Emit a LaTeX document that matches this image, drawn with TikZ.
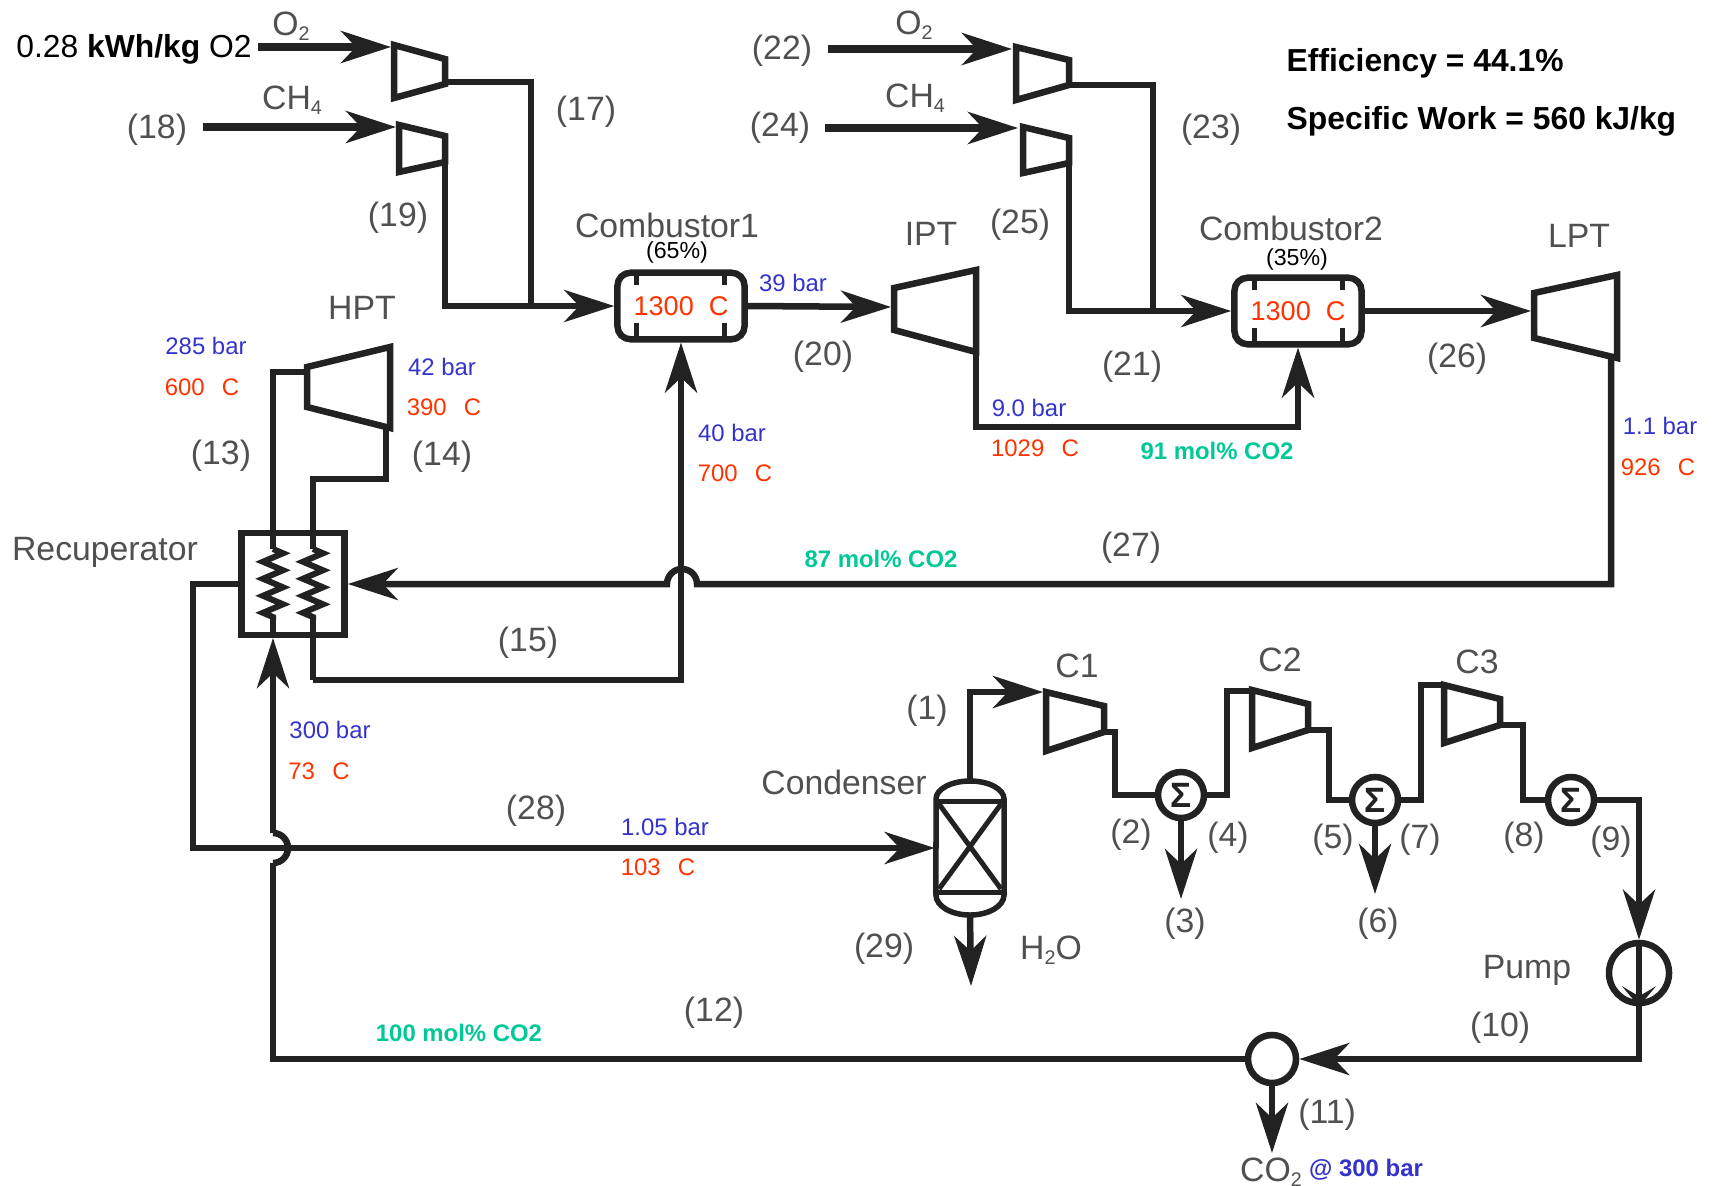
\documentclass[tikz,border=0pt]{standalone}
\usepackage{xcolor}
\usepackage{fontspec}
\setmainfont{Liberation Sans}
\usepackage{tikz}
\usetikzlibrary{arrows.meta,calc,decorations.pathmorphing}
\definecolor{linedark}{HTML}{222222}
\definecolor{labgray}{HTML}{505050}
\definecolor{presblue}{HTML}{3333CC}
\definecolor{tempred}{HTML}{FF3300}
\definecolor{fracgreen}{HTML}{00C896}
\newcommand{\lowsub}[1]{\raisebox{-0.25ex}{\fontsize{5.6}{6}\selectfont #1}}

\begin{document}
\begin{tikzpicture}[
        x=0.01cm, y=-0.01cm,
        pipe/.style={draw=linedark, line width=0.065cm},
        arr/.style={pipe, -{Stealth[length=0.5cm, width=0.32cm, inset=0.15cm]}},
        feed/.style={arr, line width=0.075cm},
        unit/.style={draw=linedark, line width=0.065cm, line join=miter},
        comb/.style={draw=linedark, line width=0.065cm, rounded corners=0.13cm, minimum width=1.27cm,
                     minimum height=0.665cm, inner sep=0pt, text=tempred, font=\fontsize{7.7}{9}\selectfont},
        sigma/.style={draw=linedark, line width=0.065cm, circle, minimum size=0.46cm, inner sep=0pt,
                      text=linedark, font=\fontsize{10}{11}\selectfont\bfseries},
        lab/.style={text=labgray, inner sep=0pt, yshift=-0.02cm, font=\fontsize{9.6}{11}\selectfont},
        pres/.style={text=presblue, inner sep=0pt, font=\fontsize{6.8}{8}\selectfont},
        temp/.style={text=tempred, inner sep=0pt, font=\fontsize{6.8}{8}\selectfont},
        frac/.style={text=fracgreen, inner sep=0pt, font=\fontsize{6.8}{8}\selectfont\bfseries},
        note/.style={text=black, inner sep=0pt, yshift=-0.03cm, font=\fontsize{9.05}{11}\selectfont},
        share/.style={text=black, inner sep=0pt, yshift=-0.02cm, font=\fontsize{6.6}{8}\selectfont},
        coil/.style={pipe, line width=0.06cm, decorate, decoration={zigzag, segment length=0.17cm, amplitude=0.1cm}},
    ]
    \useasboundingbox (0,0) rectangle (1719,1185);

    % First fuel and oxygen feed
    \draw[unit] (394,45) -- (445,59) -- (445,84) -- (394,98) -- cycle;
    \draw[unit] (399,125) -- (445,136) -- (445,162) -- (399,172) -- cycle;
    \coordinate (o2a_feed) at (258,47);
    \coordinate (o2a_in) at (391,47);
    \coordinate (cha_feed) at (203,127);
    \coordinate (cha_in) at (396,127);
    \coordinate (o2a_out) at (445,82);
    \coordinate (cha_out) at (445,162);
    \coordinate (join_a) at (531,306);
    \draw[feed] (o2a_feed) -- (o2a_in);
    \draw[feed] (cha_feed) -- (cha_in);

    % Second fuel and oxygen feed
    \draw[unit] (1016,47) -- (1069,60) -- (1069,85) -- (1016,100) -- cycle;
    \draw[unit] (1023,127) -- (1069,138) -- (1069,163) -- (1023,173) -- cycle;
    \coordinate (o2b_feed) at (828,49);
    \coordinate (o2b_in) at (1012,49);
    \coordinate (chb_feed) at (825,128);
    \coordinate (chb_in) at (1018,128);
    \coordinate (o2b_out) at (1069,85);
    \coordinate (chb_out) at (1069,163);
    \coordinate (join_b) at (1153,310);
    \draw[feed] (o2b_feed) -- (o2b_in);
    \draw[feed] (chb_feed) -- (chb_in);

    % Combustors
    \node[comb] (comb1) at (681,306) {1300~~C};
    \node[comb] (comb2) at (1298,311) {1300~~C};
    \draw[pipe, line width=0.05cm] (636,272) -- (636,285) (724,272) -- (724,285);
    \draw[pipe, line width=0.05cm] (636,323) -- (636,340) (724,323) -- (724,340);
    \draw[pipe, line width=0.05cm] (1254,277) -- (1254,290) (1342,277) -- (1342,290);
    \draw[pipe, line width=0.05cm] (1254,328) -- (1254,345) (1342,328) -- (1342,345);
    \draw[pipe] (o2a_out) -| (join_a);
    \draw[arr] (cha_out) |- (comb1.west);
    \draw[pipe] (o2b_out) -| (join_b);
    \draw[arr] (chb_out) |- (comb2.west);

    % Turbines
    \draw[unit] (307,367) -- (390,347) -- (390,428) -- (307,407) -- cycle;
    \draw[unit] (894,288) -- (976,270) -- (976,352) -- (894,330) -- cycle;
    \draw[unit] (1534,293) -- (1617,275) -- (1617,358) -- (1534,338) -- cycle;
    \coordinate (hpt_in) at (307,372);
    \coordinate (hpt_out) at (386,428);
    \coordinate (ipt_in) at (891,307);
    \coordinate (ipt_out) at (976,352);
    \coordinate (lpt_in) at (1531,311);
    \coordinate (lpt_out) at (1611,358);
    \draw[arr] (comb1.east) -- (ipt_in);
    \draw[arr] (comb2.east) -- (lpt_in);
    \draw[arr] (ipt_out) |- (1298,427) -- (comb2.south);

    % Recuperator
    \node[draw=linedark, line width=0.065cm, minimum width=1.03cm, minimum height=1.02cm, inner sep=0pt]
        (recup) at (293,584) {};
    \coordinate (coila_top) at (273,549);
    \coordinate (coila_bot) at (273,620);
    \coordinate (coilb_top) at (313,549);
    \coordinate (coilb_bot) at (313,620);
    \coordinate (recup_ina) at (273,638);
    \coordinate (recup_outb) at (313,680);
    \draw[coil] (coila_top) -- (coila_bot);
    \draw[coil] (coilb_top) -- (coilb_bot);
    \draw[pipe] (hpt_in) -| (coila_top);
    \draw[pipe] (hpt_out) |- (313,479) -- (coilb_top);
    \draw[pipe] (coila_bot) -- (recup_ina);
    \draw[pipe] (coilb_bot) -- (recup_outb);
    \draw[arr] (recup_outb) -| (comb1.south);

    % Return line, with the hop over the riser
    \coordinate (hop_r) at (697,584);
    \draw[arr] (lpt_out) |- (hop_r) arc[start angle=0, end angle=180, radius=0.15cm] -- (recup.east);

    % Condenser
    \node[minimum width=0.69cm, minimum height=1.34cm, inner sep=0pt] (cond) at (970,848) {};
    \draw[pipe, line width=0.055cm] (936,799) arc[start angle=180, end angle=0, x radius=0.34cm, y radius=0.18cm]
        -- (1004,895) arc[start angle=0, end angle=-180, x radius=0.34cm, y radius=0.2cm] -- cycle;
    \draw[pipe, line width=0.05cm] (936,801) -- (1004,801) (936,892) -- (1004,892);
    \draw[pipe, line width=0.05cm] (939,804) -- (1001,889) (1001,804) -- (939,889);
    \coordinate (cond_drain) at (971,986);
    \draw[arr] (cond.south) -- (cond_drain);
    \coordinate (hop_low) at (273,863);
    \draw[arr] (recup.west) -| (193,848) -- (cond.west);

    % Compression train
    \draw[unit] (1046,692) -- (1104,706) -- (1104,732) -- (1046,751) -- cycle;
    \draw[unit] (1252,690) -- (1308,704) -- (1308,730) -- (1252,748) -- cycle;
    \draw[unit] (1444,685) -- (1500,699) -- (1500,725) -- (1444,743) -- cycle;
    \node[sigma] (cool1) at (1181,795) {Σ};
    \node[sigma] (cool2) at (1375,800) {Σ};
    \node[sigma] (cool3) at (1571,800) {Σ};
    \coordinate (c1_in) at (1043,692);
    \coordinate (c1_out) at (1104,732);
    \coordinate (c2_in) at (1252,691);
    \coordinate (c2_out) at (1308,730);
    \coordinate (c3_in) at (1444,685);
    \coordinate (c3_out) at (1500,725);
    \coordinate (purge1) at (1181,899);
    \coordinate (purge2) at (1375,894);
    \draw[arr] (cond.north) |- (c1_in);
    \draw[pipe] (c1_out) -| (1115,795) -- (cool1.west);
    \draw[pipe] (cool1.east) -| (1227,691) -- (c2_in);
    \draw[pipe] (c2_out) -| (1329,800) -- (cool2.west);
    \draw[pipe] (cool2.east) -| (1421,685) -- (c3_in);
    \draw[pipe] (c3_out) -| (1523,800) -- (cool3.west);
    \draw[arr] (cool1.south) -- (purge1);
    \draw[arr] (cool2.south) -- (purge2);

    % Pump and splitter
    \node[sigma, minimum size=0.6cm] (pump) at (1639,973) {};
    \node[sigma, minimum size=0.48cm] (split) at (1272,1059) {};
    \coordinate (co2_out) at (1272,1153);
    \draw[arr] (cool3.east) -| (pump.north);
    \draw[pipe, -{Stealth[length=0.2cm, width=0.34cm, inset=0.1cm]}] (pump.north) -- (pump.south);
    \draw[arr] (pump.south) |- (split.east);
    \draw[arr] (split.south) -- (co2_out);
    \draw[pipe] (split.west) -| (hop_low);
    \coordinate (hop_up) at (273,833);
    \draw[pipe] (hop_low) arc[start angle=-90, end angle=90, radius=0.15cm];
    \draw[arr] (hop_up) -- (recup_ina);

    % Stream numbers
    \node[lab] (s1) at (927,709) {(1)};
    \node[lab] (s2) at (1131,833) {(2)};
    \node[lab] (s3) at (1185,922) {(3)};
    \node[lab] (s4) at (1228,836) {(4)};
    \node[lab] (s5) at (1333,838) {(5)};
    \node[lab] (s6) at (1378,922) {(6)};
    \node[lab] (s7) at (1420,838) {(7)};
    \node[lab] (s8) at (1524,836) {(8)};
    \node[lab] (s9) at (1611,840) {(9)};
    \node[lab] (s10) at (1500,1026) {(10)};
    \node[lab] (s11) at (1327,1113) {(11)};
    \node[lab] (s12) at (714,1011) {(12)};
    \node[lab] (s13) at (221,454) {(13)};
    \node[lab] (s14) at (442,455) {(14)};
    \node[lab] (s15) at (528,641) {(15)};
    \node[lab] (s17) at (586,110) {(17)};
    \node[lab] (s18) at (157,128) {(18)};
    \node[lab] (s19) at (398,216) {(19)};
    \node[lab] (s20) at (823,355) {(20)};
    \node[lab] (s21) at (1132,365) {(21)};
    \node[lab] (s22) at (782,49) {(22)};
    \node[lab] (s23) at (1211,128) {(23)};
    \node[lab] (s24) at (780,126) {(24)};
    \node[lab] (s25) at (1020,223) {(25)};
    \node[lab] (s26) at (1457,357) {(26)};
    \node[lab] (s27) at (1131,546) {(27)};
    \node[lab] (s28) at (536,809) {(28)};
    \node[lab] (s29) at (884,947) {(29)};

    % Equipment names
    \node[lab] (name_hpt) at (362,306) {HPT};
    \node[lab] (name_ipt) at (931,232) {IPT};
    \node[lab] (name_lpt) at (1579,234) {LPT};
    \node[lab] (name_comb1) at (667,223) {Combustor1};
    \node[lab] (name_comb2) at (1291,226) {Combustor2};
    \node[lab] (name_recup) at (105,550) {Recuperator};
    \node[lab] (name_cond) at (844,780) {Condenser};
    \node[lab] (name_c1) at (1077,664) {C1};
    \node[lab] (name_c2) at (1280,658) {C2};
    \node[lab] (name_c3) at (1477,660) {C3};
    \node[lab] (name_pump) at (1527,968) {Pump};
    \node[lab] (name_o2a) at (291,24) {O\lowsub{2}};
    \node[lab] (name_cha) at (292,98) {CH\lowsub{4}};
    \node[lab] (name_o2b) at (914,23) {O\lowsub{2}};
    \node[lab] (name_chb) at (915,96) {CH\lowsub{4}};
    \node[lab] (name_h2o) at (1051,948) {H\lowsub{2}O};
    \node[lab] (name_co2) at (1271,1170) {CO\lowsub{2}};
    \node[share] (share1) at (677,250) {(65\%)};
    \node[share] (share2) at (1297,257) {(35\%)};

    % Pressures and temperatures
    \node[pres] (p13) at (206,346) {285 bar};
    \node[temp] (t13) at (202,387) {600~~\,C};
    \node[pres] (p14) at (442,367) {42 bar};
    \node[temp] (t14) at (444,407) {390~~\,C};
    \node[pres] (p20) at (793,283) {39 bar};
    \node[pres] (p16) at (732,433) {40 bar};
    \node[temp] (t16) at (735,473) {700~~\,C};
    \node[pres] (p21) at (1029,408) {9.0 bar};
    \node[temp] (t21) at (1035,448) {1029~~\,C};
    \node[pres] (p27) at (1660,426) {1.1 bar};
    \node[temp] (t27) at (1658,467) {926~~\,C};
    \node[pres] (p12) at (330,730) {300 bar};
    \node[temp] (t12) at (319,771) {73~~\,C};
    \node[pres] (p28) at (665,827) {1.05 bar};
    \node[temp] (t28) at (658,867) {103~~\,C};
    \node[pres, font=\fontsize{6.8}{8}\selectfont\bfseries] (p_co2) at (1366,1170) {@ 300 bar};

    % Compositions and results
    \node[frac] (x21) at (1217,451) {91 mol\% CO2};
    \node[frac] (x27) at (881,559) {87 mol\% CO2};
    \node[frac] (x12) at (459,1033) {100 mol\% CO2};
    \node[note] (spec_o2) at (134,46) {0.28 \textbf{kWh/kg} O2};
    \node[note, anchor=west, font=\fontsize{9.05}{11}\selectfont\bfseries] (eff) at (1286,60) {Efficiency = 44.1\%};
    \node[note, anchor=west, font=\fontsize{9.05}{11}\selectfont\bfseries] (work) at (1286,118) {Specific Work = 560 kJ/kg};
\end{tikzpicture}
\end{document}
